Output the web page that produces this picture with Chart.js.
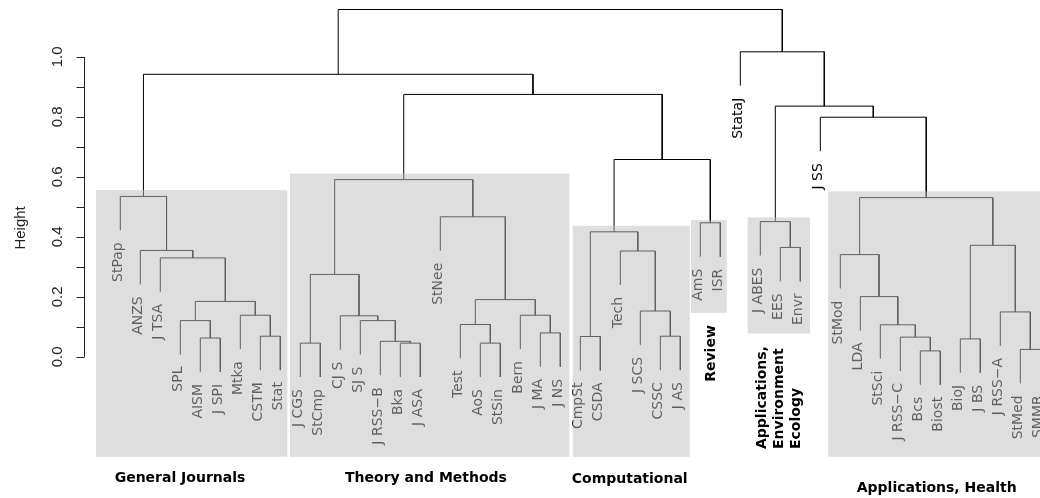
<!DOCTYPE html>
<html>
<head>
<meta charset="utf-8">
<title>Statistics journals dendrogram</title>
<script src="https://cdn.jsdelivr.net/npm/chart.js@4.4.1/dist/chart.umd.min.js"></script>
<style>
  html, body { margin: 0; padding: 0; background: #fff; }
  #wrap { width: 1040px; height: 498px; position: relative; }
</style>
</head>
<body>
<div id="wrap"><canvas id="dendro"></canvas></div>
<script>
// leaves, left to right
var leafLabels = ['StPap', 'ANZS', 'J TSA', 'SPL', 'AISM', 'J SPI', 'Mtka', 'CSTM', 'Stat',
    'J CGS', 'StCmp', 'CJ S', 'SJ S', 'J RSS\u2212B', 'Bka', 'J ASA', 'StNee', 'Test', 'AoS',
    'StSin', 'Bern', 'J MA', 'J NS', 'CmpSt', 'CSDA', 'Tech', 'J SCS', 'CSSC', 'J AS', 'AmS',
    'ISR', 'StataJ', 'J ABES', 'EES', 'Envr', 'J SS', 'StMod', 'LDA', 'StSci', 'J RSS\u2212C',
    'Bcs', 'Biost', 'BioJ', 'J BS', 'J RSS\u2212A', 'StMed', 'SMMR'];

// merges, hclust style: negative = leaf number, positive = earlier merge number
var mergeLeft   = [-5, -8, -4, -7, 3, -3, -2, -1, -10, -15, -14, -13, -12, 9, -19, -18, -22, -21, 16, -17,
    14, -24, -28, -27, -26, 22, -30, 26, 21, 8, -34, -33, -41, -40, -39, -38, -37, -43, -46, -45,
    38, 37, -36, 32, -32, 30];
var mergeRight  = [-6, -9, 1, 2, 4, 5, 6, 7, -11, -16, 10, 11, 12, 13, -20, 15, -23, 17, 18, 19,
    20, -25, -29, 23, 24, 25, -31, 27, 28, 29, -35, 31, -42, 33, 34, 35, 36, -44, -47, 39,
    40, 41, 42, 43, 44, 45];
var mergeHeight = [0.063, 0.069, 0.121, 0.139, 0.185, 0.330, 0.355, 0.535, 0.046, 0.046,
    0.052, 0.121, 0.137, 0.275, 0.046, 0.108, 0.080, 0.139, 0.191, 0.467,
    0.591, 0.068, 0.069, 0.153, 0.353, 0.417, 0.447, 0.658, 0.875, 0.942,
    0.365, 0.451, 0.020, 0.066, 0.107, 0.201, 0.341, 0.060, 0.025, 0.150,
    0.372, 0.531, 0.799, 0.836, 1.017, 1.158];

// y axis
var yTickMarks  = [0, 0.1, 0.2, 0.3, 0.4, 0.5, 0.6, 0.7, 0.8, 0.9, 1.0];
var yTickValues = [0, 0.2, 0.4, 0.6, 0.8, 1.0];
var yTickLabels = ['0.0', '0.2', '0.4', '0.6', '0.8', '1.0'];
var yTitle = 'Height';

// clusters
var groupNames = ['General Journals', 'Theory and Methods', 'Computational', 'Review',
    'Applications,\nEnvironment\nEcology', 'Applications, Health'];

// layout only: shaded boxes [x0, x1, top, bottom] and label anchors, in axis units
var groupBoxes = [
    [-0.215, 9.35, 0.556, -0.333],
    [9.485, 23.45, 0.611, -0.333],
    [23.62, 29.47, 0.437, -0.333],
    [29.535, 31.32, 0.456, 0.147],
    [32.37, 35.485, 0.465, 0.078],
    [36.4, 48, 0.552, -0.333]
];
var groupLabelAt = [
    { x: 3.985, y: -0.405, rot: false },
    { x: 16.285, y: -0.404, rot: false },
    { x: 26.47, y: -0.407, rot: false },
    { x: 30.53, y: -0.083, rot: true },
    { x: 33.1, y: -0.307, rot: true },
    { x: 41.82, y: -0.438, rot: false }
];
var hang = 0.113;

// node positions: children midpoints, leaf lines hang below their merge
var nodeX = [];
var leafBottom = [];
function childX(c) { return c < 0 ? -c : nodeX[c - 1]; }
function childH(c, h) {
    if (c < 0) {
        leafBottom[-c - 1] = h - hang;
        return h - hang;
    }
    return mergeHeight[c - 1];
}

var datasets = [];
mergeHeight.forEach(function(h, i) {
    var l = mergeLeft[i], r = mergeRight[i];
    var xl = childX(l), xr = childX(r);
    nodeX[i] = (xl + xr) / 2;
    datasets.push({
        data: [
            { x: xl, y: childH(l, h) },
            { x: xl, y: h },
            { x: xr, y: h },
            { x: xr, y: childH(r, h) }
        ],
        showLine: true,
        borderColor: '#000',
        borderWidth: 1,
        pointRadius: 0,
        tension: 0
    });
});

var decor = {
    id: 'decor',
    afterDatasetsDraw: function(chart) {
        var ctx = chart.ctx;
        var xs = chart.scales.x, ys = chart.scales.y;
        ctx.save();

        // leaf labels
        ctx.fillStyle = '#000';
        ctx.font = '14px "DejaVu Sans"';
        ctx.textAlign = 'right';
        ctx.textBaseline = 'alphabetic';
        leafLabels.forEach(function(name, i) {
            var px = xs.getPixelForValue(i + 1);
            var py = ys.getPixelForValue(leafBottom[i]) + 12;
            ctx.save();
            ctx.translate(px + 2, py);
            ctx.rotate(-Math.PI / 2);
            ctx.fillText(name, 0, 0);
            ctx.restore();
        });

        // shaded cluster boxes over the tree
        ctx.fillStyle = 'rgba(190,190,190,0.5)';
        groupBoxes.forEach(function(b) {
            var x0 = xs.getPixelForValue(b[0]), x1 = xs.getPixelForValue(b[1]);
            var y0 = ys.getPixelForValue(b[2]), y1 = ys.getPixelForValue(b[3]);
            ctx.fillRect(x0, y0, x1 - x0, y1 - y0);
        });

        // y axis
        var ax = Math.round(xs.left) + 0.5;
        ctx.strokeStyle = '#222';
        ctx.lineWidth = 1;
        ctx.beginPath();
        ctx.moveTo(ax, ys.getPixelForValue(0));
        ctx.lineTo(ax, ys.getPixelForValue(1));
        yTickMarks.forEach(function(v) {
            var py = Math.round(ys.getPixelForValue(v)) + 0.5;
            ctx.moveTo(ax, py);
            ctx.lineTo(ax - 8, py);
        });
        ctx.stroke();

        ctx.fillStyle = '#222';
        ctx.font = '15px "Liberation Sans"';
        ctx.textAlign = 'center';
        yTickValues.forEach(function(v, i) {
            ctx.save();
            ctx.translate(ax - 22.5, ys.getPixelForValue(v));
            ctx.rotate(-Math.PI / 2);
            ctx.fillText(yTickLabels[i], 0, 0);
            ctx.restore();
        });
        ctx.save();
        ctx.translate(25, ys.getPixelForValue(0.43));
        ctx.rotate(-Math.PI / 2);
        ctx.fillText(yTitle, 0, 0);
        ctx.restore();

        // cluster names
        ctx.fillStyle = '#000';
        ctx.font = 'bold 14px "DejaVu Sans"';
        ctx.textBaseline = 'middle';
        groupNames.forEach(function(name, i) {
            var at = groupLabelAt[i];
            var px = xs.getPixelForValue(at.x), py = ys.getPixelForValue(at.y);
            if (!at.rot) {
                ctx.textAlign = 'center';
                ctx.fillText(name, px, py);
                return;
            }
            ctx.textAlign = 'left';
            name.split('\n').forEach(function(line, k) {
                ctx.save();
                ctx.translate(px + k * 17, py);
                ctx.rotate(-Math.PI / 2);
                ctx.fillText(line, 0, 0);
                ctx.restore();
            });
        });

        ctx.restore();
    }
};

var chart = new Chart(document.getElementById('dendro'), {
    type: 'scatter',
    data: { datasets: datasets },
    options: {
        responsive: true,
        maintainAspectRatio: false,
        animation: false,
        layout: { padding: { left: 84, right: 0, top: 0, bottom: 0 } },
        plugins: { legend: { display: false }, tooltip: { enabled: false } },
        scales: {
            x: { type: 'linear', display: false, min: -0.815, max: 46.985 },
            y: { type: 'linear', display: false, min: -0.4703, max: 1.1897 }
        }
    },
    plugins: [decor]
});
</script>
</body>
</html>
